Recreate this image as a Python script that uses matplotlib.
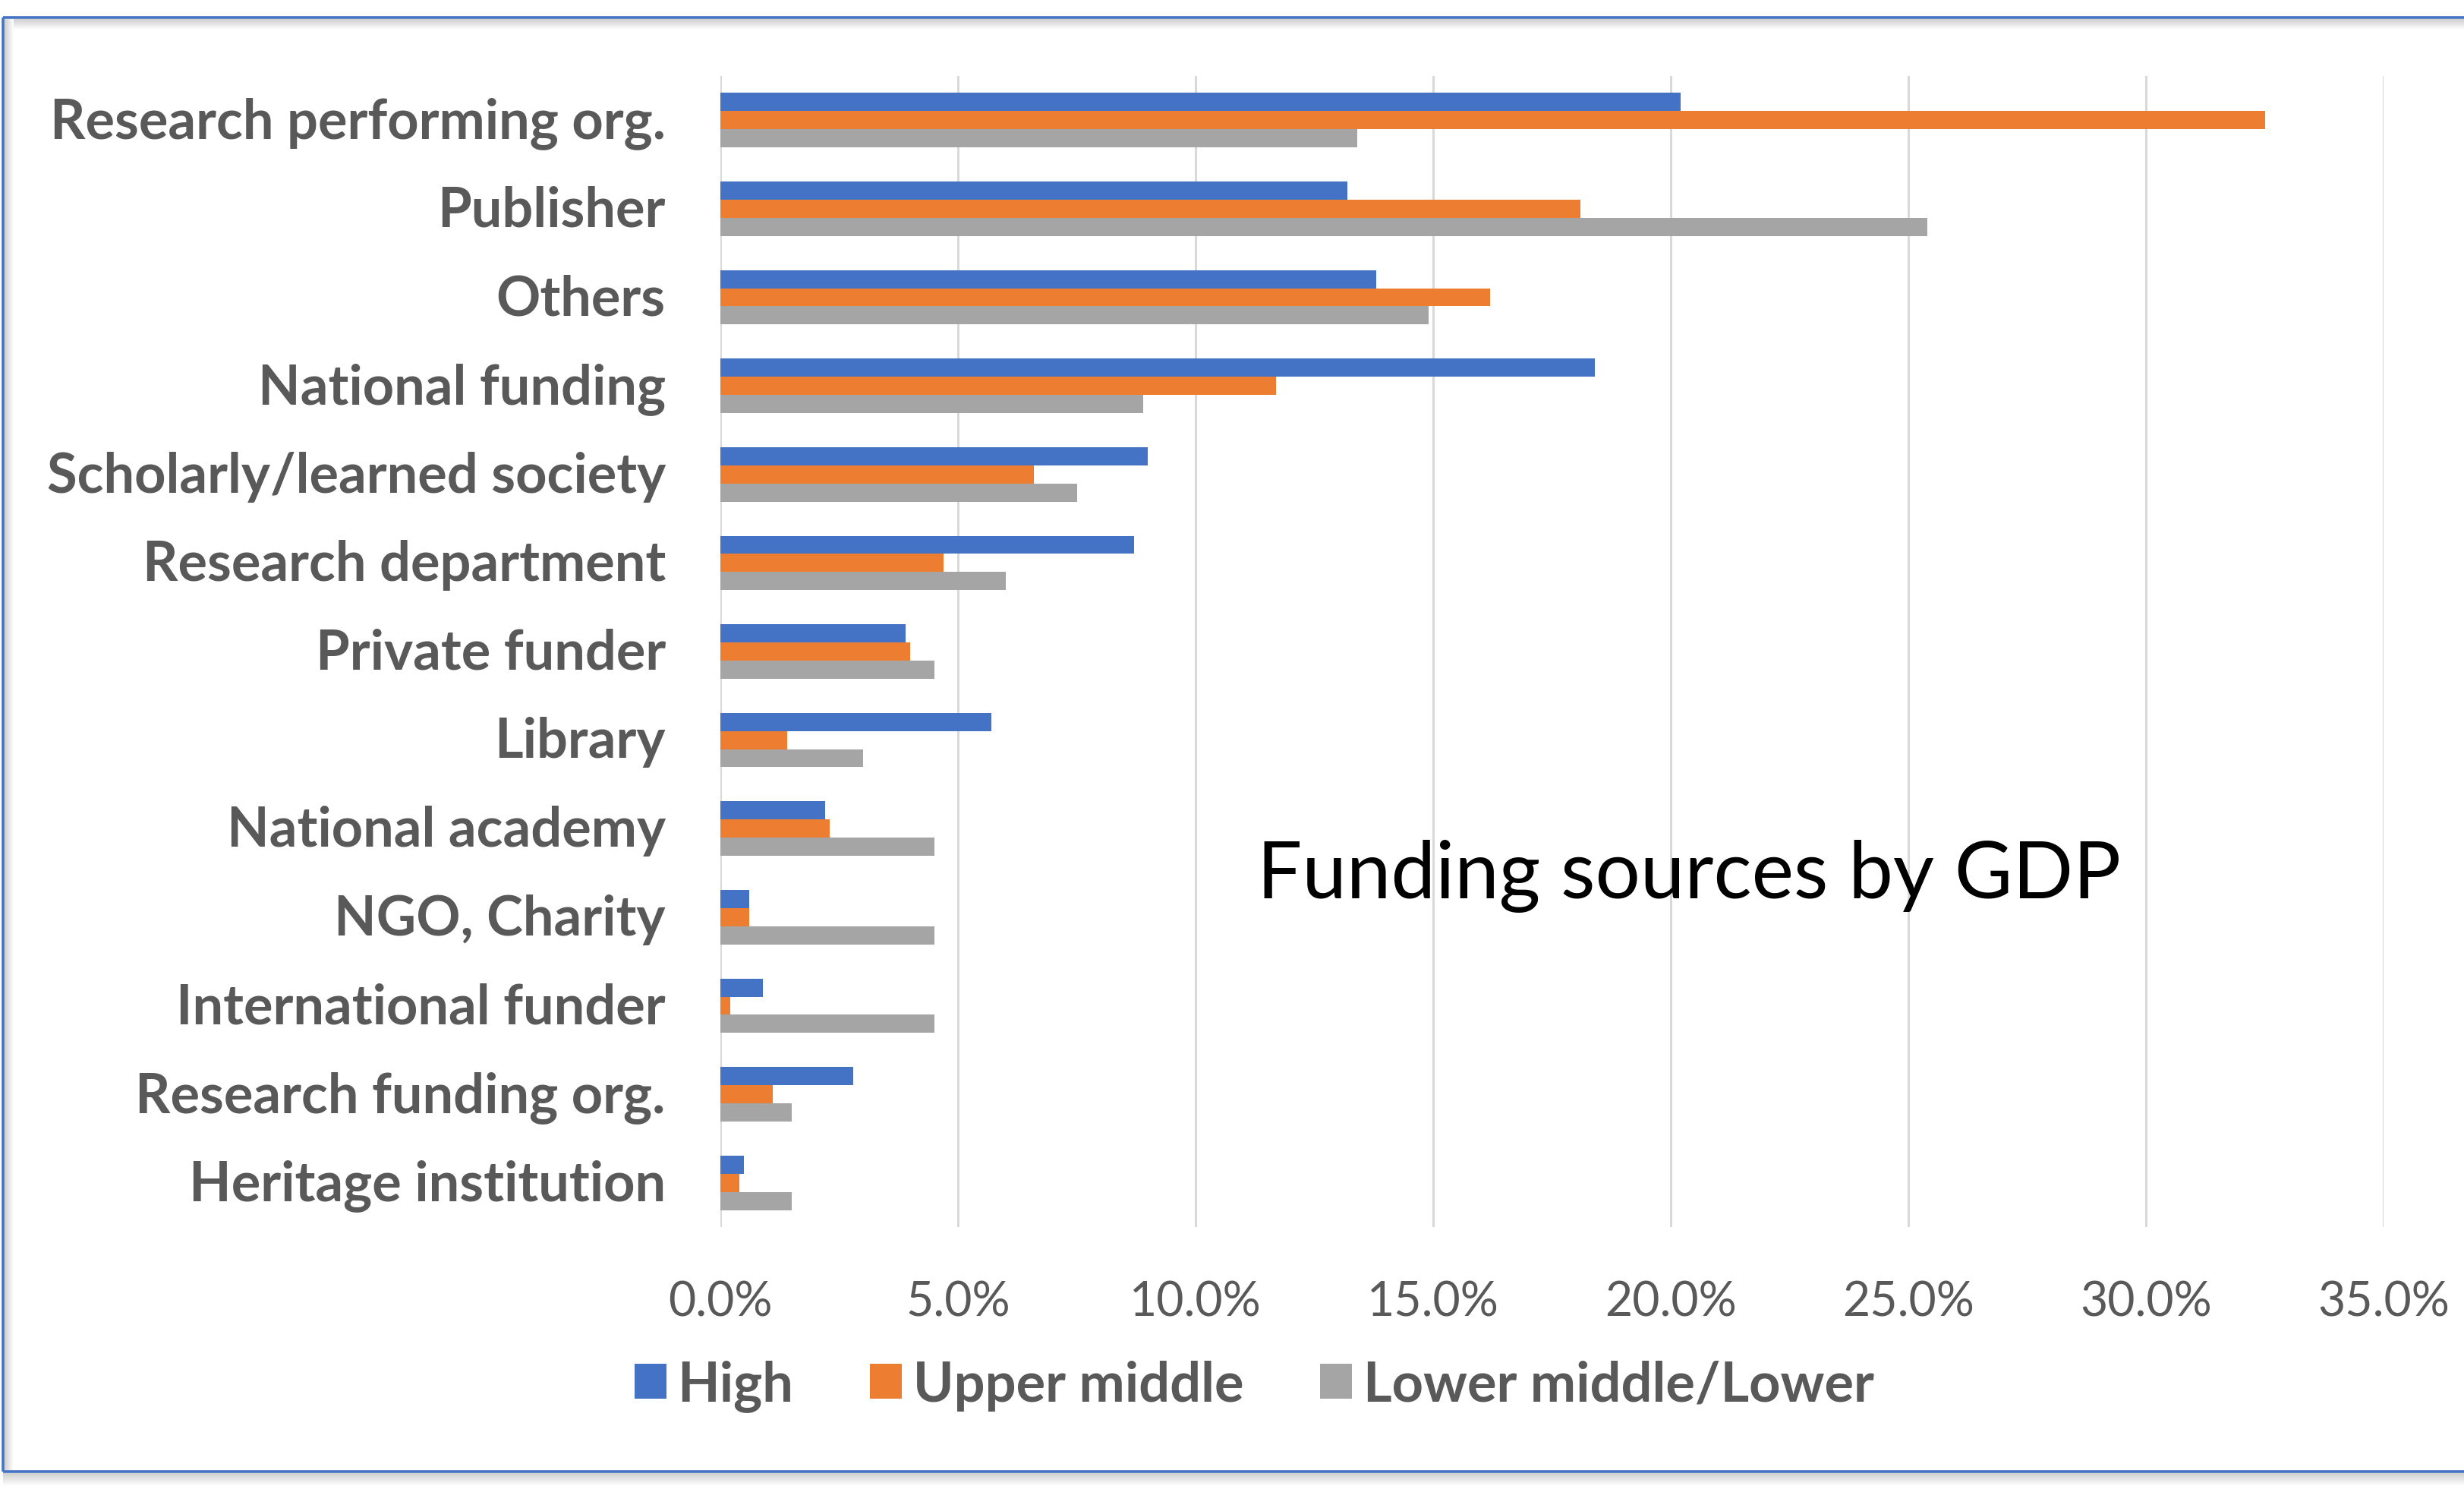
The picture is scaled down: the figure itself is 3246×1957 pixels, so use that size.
import numpy as np
import matplotlib
matplotlib.use("Agg")
import matplotlib.pyplot as plt
from matplotlib.ticker import FuncFormatter
from matplotlib.transforms import ScaledTranslation

categories = [
    "Research performing org.",
    "Publisher",
    "Others",
    "National funding",
    "Scholarly/learned society",
    "Research department",
    "Private funder",
    "Library",
    "National academy",
    "NGO, Charity",
    "International funder",
    "Research funding org.",
    "Heritage institution",
]
# share of responses per funding source (%)
high = [20.2, 13.2, 13.8, 18.4, 9.0, 8.7, 3.9, 5.7, 2.2, 0.6, 0.9, 2.8, 0.5]
upper_middle = [32.5, 18.1, 16.2, 11.7, 6.6, 4.7, 4.0, 1.4, 2.3, 0.6, 0.2, 1.1, 0.4]
lower = [13.4, 25.4, 14.9, 8.9, 7.5, 6.0, 4.5, 3.0, 4.5, 4.5, 4.5, 1.5, 1.5]
series_names = ["High", "Upper middle", "Lower middle/Lower"]
colors = ["#4472C4", "#ED7D31", "#A5A5A5"]

W, H = 3246, 1958
DPI = 100
text_grey = "#595959"

fig = plt.figure(figsize=(W / DPI, H / DPI), dpi=DPI)
fig.patch.set_facecolor("white")

# frame with a soft drop shadow, drawn in pixel units
bg = fig.add_axes([0, 0, 1, 1], zorder=-1)
bg.set_xlim(0, W)
bg.set_ylim(H, 0)
bg.axis("off")
grad = np.linspace(0, 1, 50)
cmap_shadow = matplotlib.colors.LinearSegmentedColormap.from_list("sh", ["#CFCFCF", "#FFFFFF"])
bg.imshow(grad[:, None], extent=(6, W, 40, 26), cmap=cmap_shadow, aspect="auto", vmin=0, vmax=1)
bg.imshow(grad[None, :], extent=(6, 18, 1937, 26), cmap=cmap_shadow, aspect="auto", vmin=0, vmax=1)
bg.imshow(grad[:, None], extent=(4, W, 1958, 1941), cmap=cmap_shadow, aspect="auto", vmin=0, vmax=1)
bg.plot([4, W], [24, 24], color="#4472C4", lw=2.6, solid_capstyle="butt")
bg.plot([4, 4], [24, 1939], color="#4472C4", lw=2.6, solid_capstyle="butt")
bg.plot([4, W], [1939, 1939], color="#4472C4", lw=2.6, solid_capstyle="butt")

ax_left, ax_right, ax_top, ax_bottom = 949, 3140, 101, 1617
ax = fig.add_axes([ax_left / W, 1 - ax_bottom / H, (ax_right - ax_left) / W, (ax_bottom - ax_top) / H])
ax.set_facecolor("none")

y = np.arange(len(categories))
bar_h = 0.205
handles = []
for i, (vals, name, col) in enumerate(zip([high, upper_middle, lower], series_names, colors)):
    b = ax.barh(y + (i - 1) * bar_h, np.array(vals) / 100, height=bar_h, color=col, label=name, zorder=3)
    handles.append(b)

ax.set_xlim(0, 0.35)
ax.set_ylim(len(categories) - 0.5, -0.5)
ax.set_xticks(np.arange(0, 0.351, 0.05))
ax.xaxis.set_major_formatter(FuncFormatter(lambda v, p: f"{v * 100:.1f}%"))
ax.set_yticks(y)
ax.set_yticklabels(categories)
ax.grid(axis="x", color="#D9D9D9", lw=2.2, zorder=0)
for s in ax.spines.values():
    s.set_visible(False)
ax.tick_params(axis="both", length=0)
ax.tick_params(axis="x", pad=50, labelsize=45, labelcolor=text_grey)
ax.tick_params(axis="y", pad=52, labelsize=52, labelcolor=text_grey)
for lab in ax.get_xticklabels():
    lab.set_fontfamily("Lato")
lift = ScaledTranslation(0, 3 / 72, fig.dpi_scale_trans)
for lab in ax.get_yticklabels():
    lab.set_fontfamily("Lato")
    lab.set_fontweight("bold")
    lab.set_transform(lab.get_transform() + lift)

fig.text(1656 / W, 1 - 1183 / H, "Funding sources by GDP", fontsize=75.5, family="Lato",
         color="black", ha="left", va="baseline")

fig.legend(handles=handles, labels=series_names, loc="center left",
           bbox_to_anchor=(836 / W, 1 - 1826 / H), ncol=3, frameon=False,
           prop={"family": "Lato", "weight": "bold", "size": 52},
           labelcolor=text_grey, handlelength=0.58, handleheight=0.6,
           handletextpad=0.2, columnspacing=1.4, borderpad=0, borderaxespad=0)

fig.savefig("out.png", dpi=DPI)
